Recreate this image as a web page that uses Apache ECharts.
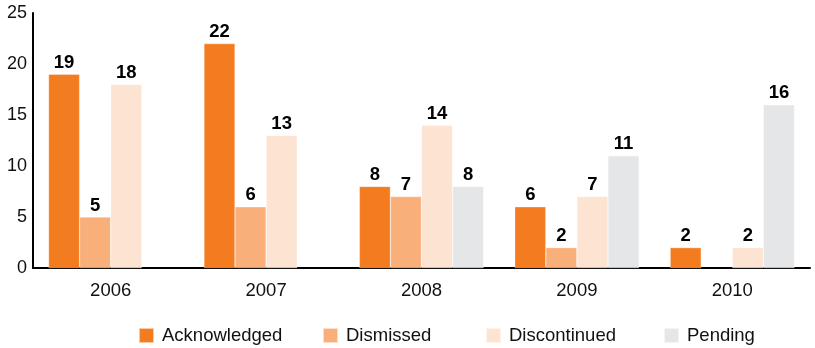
<!DOCTYPE html>
<html><head><meta charset="utf-8">
<script src="https://cdn.jsdelivr.net/npm/echarts@6/dist/echarts.min.js"></script>
<style>html,body{margin:0;padding:0;background:#fff}#c{width:815px;height:348px}</style>
</head><body><div id="c"></div>
<script>
const categories = ['2006','2007','2008','2009','2010'];
const acknowledged = [19, 22, 8, 6, 2];
const dismissed = [5, 6, 7, 2, null];
const discontinued = [18, 13, 14, 7, 2];
const pending = [null, null, 8, 11, 16];
const yTicks = [0, 5, 10, 15, 20, 25];

const names = ['Acknowledged','Dismissed','Discontinued','Pending'];
const colors = ['#F47C20','#F9AF7A','#FDE3D2','#E5E6E8'];
const data = [acknowledged, dismissed, discontinued, pending];
const legendLeft = [138, 322, 485, 663];
const FF = 'Liberation Sans, Arial, sans-serif';

const chart = echarts.init(document.getElementById('c'));
chart.setOption({
  animation: false,
  textStyle: {fontFamily: FF},
  grid: {left: 33, right: 5, top: 13, bottom: 80},
  legend: names.map((n, i) => ({
    top: 326, left: legendLeft[i], itemWidth: 15, itemHeight: 15, itemGap: 0,
    icon: 'rect', padding: 0,
    textStyle: {fontSize: 18.5, color: '#111', fontFamily: FF, padding: [0, 0, 0, 3]},
    data: [n]
  })),
  xAxis: {
    type: 'category', data: categories,
    axisLine: {lineStyle: {color: '#000', width: 2}},
    axisTick: {show: false},
    axisLabel: {fontSize: 18.5, color: '#111', margin: 13}
  },
  yAxis: {
    type: 'value', min: yTicks[0], max: yTicks[yTicks.length-1], interval: 5,
    axisLine: {show: true, lineStyle: {color: '#000', width: 2}},
    axisTick: {show: false},
    splitLine: {show: false},
    axisLabel: {fontSize: 18, color: '#111', margin: 6}
  },
  series: names.map((n, i) => ({
    name: n, type: 'bar', data: data[i],
    barGap: '0%', barCategoryGap: '20%',
    itemStyle: {color: colors[i], borderColor: 'rgba(255,255,255,0.6)', borderWidth: 0.5},
    label: {show: true, position: 'top', fontWeight: 'bold', fontSize: 18.5, color: '#000', distance: 2}
  }))
});
</script></body></html>
